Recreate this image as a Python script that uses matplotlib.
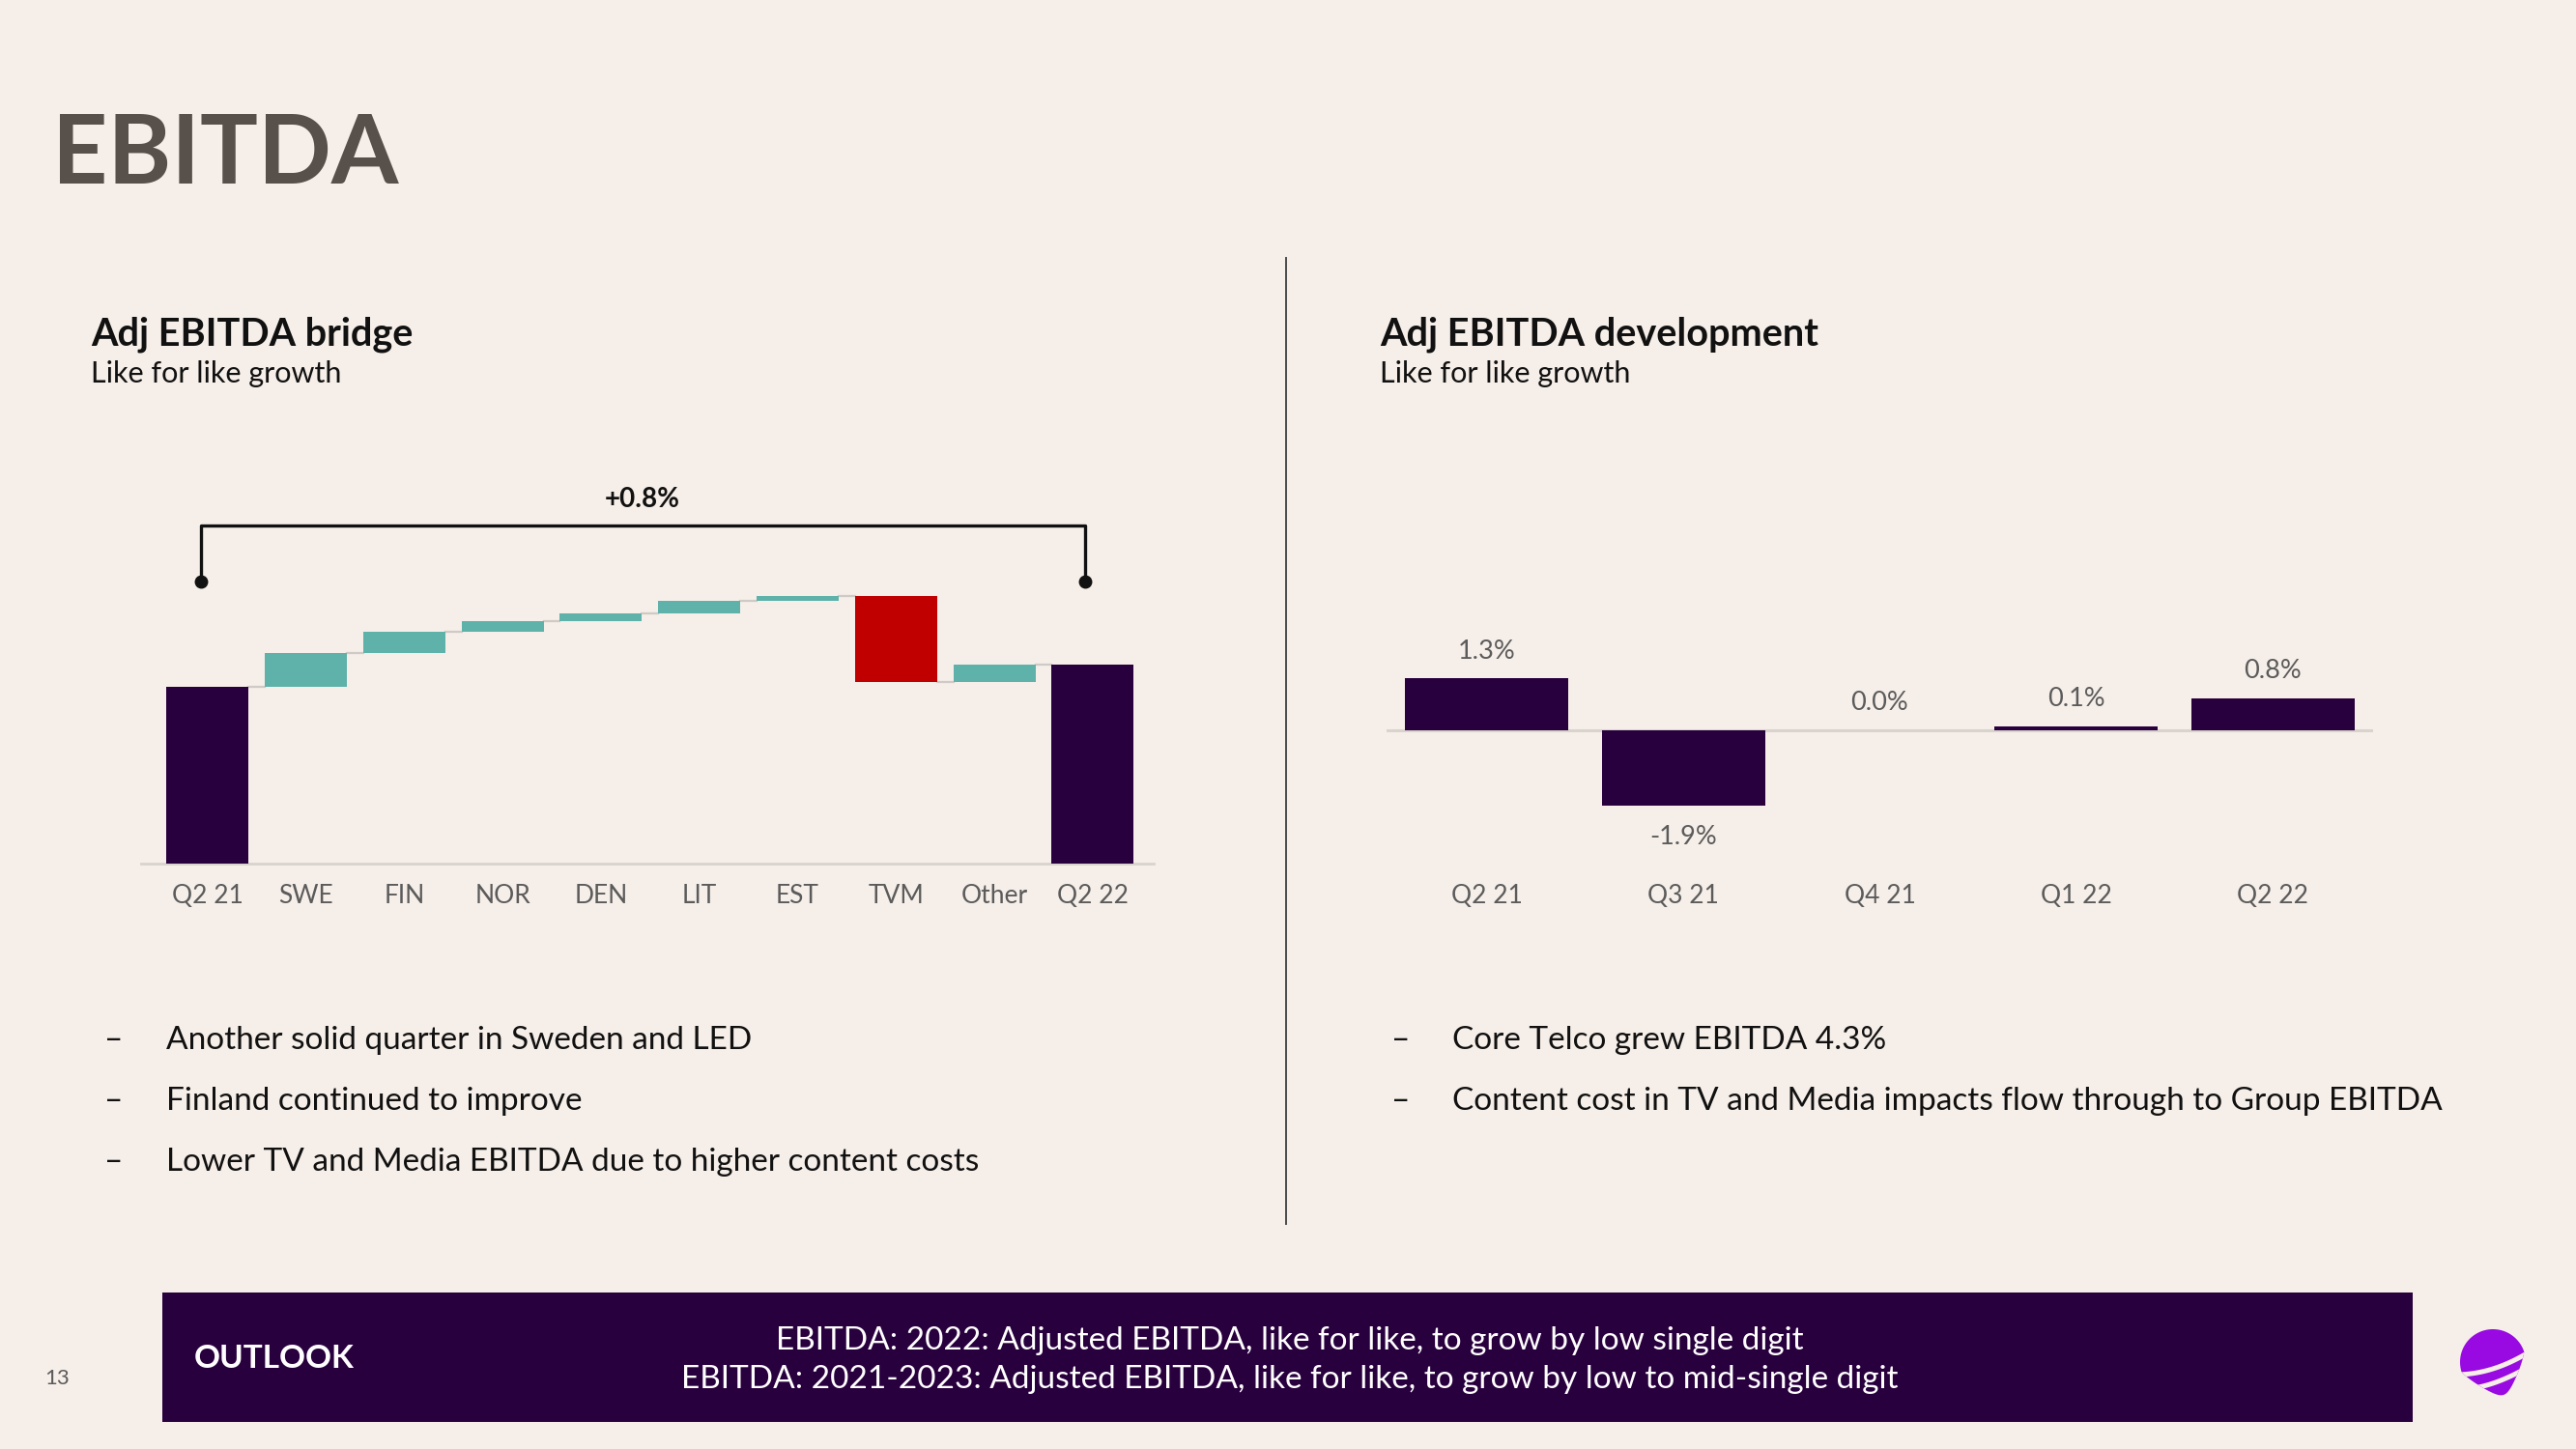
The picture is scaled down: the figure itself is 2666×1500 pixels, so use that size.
import matplotlib
matplotlib.use("Agg")
import matplotlib.pyplot as plt
from matplotlib.patches import Rectangle, Polygon
from matplotlib.lines import Line2D
import numpy as np

# ---------------- data ----------------
bridge_cats = ["Q2 21", "SWE", "FIN", "NOR", "DEN", "LIT", "EST", "TVM", "Other", "Q2 22"]
bridge_start = 10.0
bridge_deltas = [1.93, 1.17, 0.60, 0.45, 0.69, 0.29, -4.85, 1.00]
bridge_end = 11.28
bridge_total_label = "+0.8%"

dev_cats = ["Q2 21", "Q3 21", "Q4 21", "Q1 22", "Q2 22"]
dev_values = [1.3, -1.9, 0.0, 0.1, 0.8]

left_bullets = ["Another solid quarter in Sweden and LED",
                "Finland continued to improve",
                "Lower TV and Media EBITDA due to higher content costs"]
right_bullets = ["Core Telco grew EBITDA 4.3%",
                 "Content cost in TV and Media impacts flow through to Group EBITDA"]
outlook_lines = ["EBITDA: 2022: Adjusted EBITDA, like for like, to grow by low single digit",
                 "EBITDA: 2021-2023: Adjusted EBITDA, like for like, to grow by low to mid-single digit"]

# ---------------- style ----------------
W, H = 2666, 1500
BG = "#f6eee8"
PURPLE = "#29003e"
TEAL = "#5eb2aa"
RED = "#c00000"
GREY_TXT = "#5b5b5b"
AXIS_GREY = "#d9d3ce"
LOGO = "#990ae3"

plt.rcParams['font.family'] = ['Lato', 'DejaVu Sans']

fig = plt.figure(figsize=(W / 100, H / 100), dpi=100, facecolor=BG)


def fx(x):
    return x / W


def fy(y):
    return 1 - y / H


def add_axes_px(l, t, r, b):
    ax = fig.add_axes([l / W, 1 - b / H, (r - l) / W, (b - t) / H])
    ax.set_facecolor("none")
    return ax


# ---------------- title & headers ----------------
fig.text(fx(54), fy(162), "EBITDA", fontsize=72, fontweight="bold", color="#57504b", va="center", ha="left")

fig.text(fx(94), fy(346), "Adj EBITDA bridge", fontsize=28.5, fontweight="bold", color="#111111", va="center")
fig.text(fx(94), fy(387), "Like for like growth", fontsize=22, color="#111111", va="center")
fig.text(fx(1428), fy(346), "Adj EBITDA development", fontsize=28.5, fontweight="bold", color="#111111", va="center")
fig.text(fx(1428), fy(387), "Like for like growth", fontsize=22, color="#111111", va="center")

# divider
fig.add_artist(Line2D([fx(1331), fx(1331)], [fy(267), fy(1267)], color="#4a4a4a", lw=1.4))

# ---------------- left: waterfall ----------------
axL = add_axes_px(145.5, 480, 1194, 894)
bw = 0.835
xs = np.arange(len(bridge_cats))
bottoms, heights, colors, levels = [], [], [], []
bottoms.append(0); heights.append(bridge_start); colors.append(PURPLE)
cum = bridge_start
levels.append(cum)
for d in bridge_deltas:
    bottoms.append(cum if d >= 0 else cum + d)
    heights.append(abs(d))
    colors.append(TEAL if d >= 0 else RED)
    cum += d
    levels.append(cum)
bottoms.append(0); heights.append(bridge_end); colors.append(PURPLE)

axL.bar(xs, heights, bottom=bottoms, width=bw, color=colors, zorder=3)
for i, lv in enumerate(levels):
    axL.plot([i + bw / 2, i + 1 - bw / 2], [lv, lv], color="#cfcac6", lw=1.6, zorder=2)

tops = [b + h for b, h in zip(bottoms, heights)]
ymax = max(tops)
x0, x1 = xs[0] - 0.07, xs[-1] - 0.08
y_dot = ymax + 0.8
y_top = ymax + 4.0
axL.plot([x0, x0, x1, x1], [y_dot, y_top, y_top, y_dot], color="#111111", lw=2.4, clip_on=False, zorder=4)
axL.plot([x0, x1], [y_dot, y_dot], "o", color="#111111", ms=9, clip_on=False, zorder=4)
axL.text((x0 + x1) / 2, y_top + 1.45, bridge_total_label, ha="center", va="center",
         fontsize=20, fontweight="bold", color="#111111")

axL.set_xlim(-0.68, 9.62)
axL.set_ylim(0, 414 / 18.3)
axL.set_xticks(xs)
axL.set_xticklabels(bridge_cats, fontsize=19, color=GREY_TXT)
axL.tick_params(axis="x", length=0, pad=15)
axL.set_yticks([])
for s in ["left", "right", "top"]:
    axL.spines[s].set_visible(False)
axL.spines["bottom"].set_color(AXIS_GREY)
axL.spines["bottom"].set_linewidth(2)

# ---------------- right: development bars ----------------
axR = add_axes_px(1435, 600, 2456, 900)
xr = np.arange(len(dev_cats))
axR.bar(xr, dev_values, width=0.83, color=PURPLE, zorder=3)
axR.axhline(0, color=AXIS_GREY, lw=2.2, zorder=2)
for i, v in enumerate(dev_values):
    off = 20 if v >= 0 else -23
    axR.annotate(f"{v:.1f}%", xy=(i, v), xytext=(0, off), textcoords="offset points",
                 ha="center", va="center", fontsize=19.5, color=GREY_TXT)
axR.set_xlim(-0.51, 4.51)
axR.set_ylim(-(900 - 755.7) / 41.3, (755.7 - 600) / 41.3)
axR.set_xticks(xr)
axR.set_xticklabels(dev_cats, fontsize=19, color=GREY_TXT)
axR.tick_params(axis="x", length=0, pad=11)
axR.set_yticks([])
for s in axR.spines.values():
    s.set_visible(False)

# ---------------- bullets ----------------
for i, t in enumerate(left_bullets):
    y = 1077 + i * 62.8
    fig.text(fx(108), fy(y), "–", fontsize=24, color="#111111", va="center")
    fig.text(fx(172), fy(y), t, fontsize=24, color="#111111", va="center")
for i, t in enumerate(right_bullets):
    y = 1077 + i * 62.8
    fig.text(fx(1440), fy(y), "–", fontsize=24, color="#111111", va="center")
    fig.text(fx(1503), fy(y), t, fontsize=24, color="#111111", va="center")

# ---------------- outlook banner ----------------
fig.add_artist(Rectangle((fx(168), fy(1472)), (2497 - 168) / W, (1472 - 1338) / H,
                         transform=fig.transFigure, facecolor=PURPLE, edgecolor="none"))
fig.text(fx(201), fy(1407), "OUTLOOK", fontsize=24, fontweight="bold", color="white", va="center")
fig.text(fx(1335), fy(1388), outlook_lines[0], fontsize=24, color="white", va="center", ha="center")
fig.text(fx(1335), fy(1428), outlook_lines[1], fontsize=24, color="white", va="center", ha="center")

fig.text(fx(59), fy(1427), "13", fontsize=16, color=GREY_TXT, va="center", ha="center")

# ---------------- logo ----------------
axLogo = add_axes_px(2530, 1365, 2630, 1455)
axLogo.set_xlim(2530, 2630)
axLogo.set_ylim(1455, 1365)
axLogo.axis("off")
t = np.linspace(0, 2 * np.pi, 200)
rx, ry = 34, 34
px = rx * np.cos(t) * (1 - 0.5 * np.clip(np.sin(t), 0, None))
py = ry * np.sin(t) * (1 + 0.05 * np.clip(np.sin(t), 0, None))
ang = np.deg2rad(-18)
qx = px * np.cos(ang) - py * np.sin(ang) + 2580
qy = px * np.sin(ang) + py * np.cos(ang) + 1410
shape = Polygon(np.column_stack([qx, qy]), closed=True, facecolor=LOGO, edgecolor="none")
axLogo.add_patch(shape)
for (xa, ya), (xm, ym), (xb, yb) in [((2540, 1423), (2580, 1417), (2620, 1398)),
                                     ((2545, 1438), (2580, 1432), (2620, 1413))]:
    s = np.linspace(0, 1, 50)
    cx = (1 - s) ** 2 * xa + 2 * (1 - s) * s * (2 * xm - (xa + xb) / 2) + s ** 2 * xb
    cy = (1 - s) ** 2 * ya + 2 * (1 - s) * s * (2 * ym - (ya + yb) / 2) + s ** 2 * yb
    ln, = axLogo.plot(cx, cy, color=BG, lw=3.6, solid_capstyle="butt")
    ln.set_clip_path(shape)

fig.savefig("out.png", dpi=100, facecolor=BG)
